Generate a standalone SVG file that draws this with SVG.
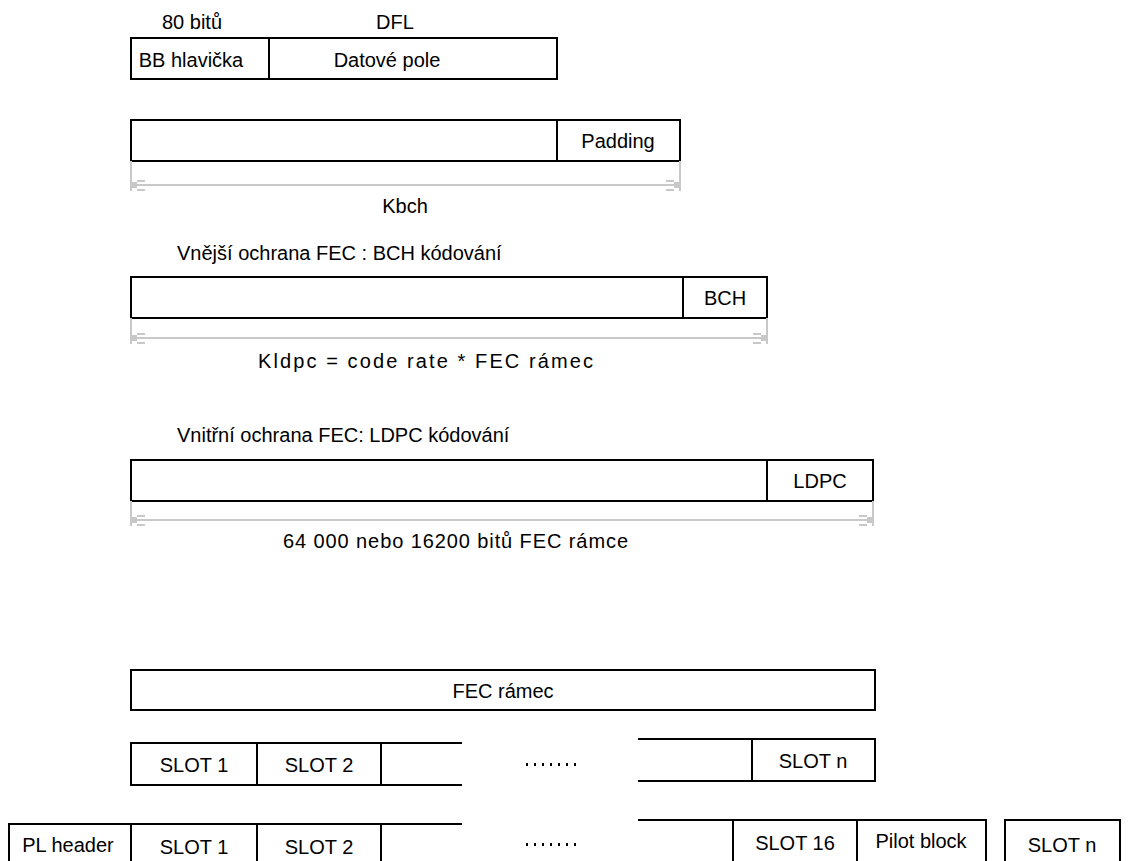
<svg xmlns="http://www.w3.org/2000/svg" width="1128" height="861" viewBox="0 0 1128 861">
<style>
.b{fill:none;stroke:#000;stroke-width:2}
.l{stroke:#000;stroke-width:2}
.g{stroke:#c8c8c8;stroke-width:2;fill:none}
.ga{fill:#c8c8c8}
text{font-family:"Liberation Sans",Arial,sans-serif;font-size:20px;fill:#000}
.c{text-anchor:middle}
</style>
<rect width="1128" height="861" fill="#fff"/>
<g id="bbframe">
<text class="c" x="192" y="29">80 bitů</text>
<text class="c" x="395" y="29">DFL</text>
<rect class="b" x="131" y="38" width="426" height="41"/>
<line class="l" x1="269" y1="38" x2="269" y2="79"/>
<text class="c" x="191" y="67">BB hlavička</text>
<text class="c" x="387" y="67">Datové pole</text>
</g>
<g id="padding">
<rect class="b" x="131" y="120" width="549" height="41"/>
<line class="l" x1="557" y1="120" x2="557" y2="161"/>
<text class="c" x="618" y="148">Padding</text>
</g>
<g id="bch">
<text x="177" y="260">Vnější ochrana FEC : BCH kódování</text>
<rect class="b" x="131" y="277" width="636" height="41"/>
<line class="l" x1="683" y1="277" x2="683" y2="318"/>
<text class="c" x="725" y="305">BCH</text>
</g>
<g id="ldpc">
<text x="177" y="442">Vnitřní ochrana FEC: LDPC kódování</text>
<rect class="b" x="131" y="460" width="742" height="41"/>
<line class="l" x1="767" y1="460" x2="767" y2="501"/>
<text class="c" x="820" y="488">LDPC</text>
</g>
<g id="dimensions">
<g>
<path class="g" d="M131 161V191M680 161V191M131 185H680"/>
<rect class="ga" x="131" y="182" width="6" height="6"/><path class="g" d="M137 181H145M137 190H145M674 181H666M674 190H666"/>
<rect class="ga" x="674" y="182" width="6" height="6"/>
<text class="c" x="405" y="213">Kbch</text>
</g>
<g>
<path class="g" d="M131 318V344M767 318V344M131 338H767"/>
<rect class="ga" x="131" y="335" width="6" height="6"/><path class="g" d="M137 334H145M137 343H145M761 334H753M761 343H753"/>
<rect class="ga" x="761" y="335" width="6" height="6"/>
<text x="258" y="368" textLength="335">Kldpc = code rate * FEC rámec</text>
</g>
<g>
<path class="g" d="M131 501V526M873 501V526M131 520H873"/>
<rect class="ga" x="131" y="517" width="6" height="6"/><path class="g" d="M137 516H145M137 525H145M867 516H859M867 525H859"/>
<rect class="ga" x="867" y="517" width="6" height="6"/>
<text x="283" y="548" textLength="345">64 000 nebo 16200 bitů FEC rámce</text>
</g>
</g>
<g id="fecframe">
<rect class="b" x="131" y="670" width="744" height="40"/>
<text class="c" x="503" y="698">FEC rámec</text>
</g>
<g id="slots">
<path class="l" fill="none" d="M462 743H131V785H462M257 743V785M381 743V785"/>
<text class="c" x="194" y="772">SLOT 1</text>
<text class="c" x="319" y="772">SLOT 2</text>
<path class="l" fill="none" d="M638 739H875V781H638M752 739V781"/>
<text class="c" x="813" y="768">SLOT n</text>
<g fill="#000"><rect x="526" y="763" width="2" height="3"/><rect x="534" y="763" width="2" height="3"/><rect x="542" y="763" width="2" height="3"/><rect x="550" y="763" width="2" height="3"/><rect x="558" y="763" width="2" height="3"/><rect x="566" y="763" width="2" height="3"/><rect x="574" y="763" width="2" height="3"/></g>
</g>
<g id="plframe">
<path class="l" fill="none" d="M462 824H9V870M131 824V870M257 824V870M381 824V870"/>
<text class="c" x="68" y="852">PL header</text>
<text class="c" x="194" y="854">SLOT 1</text>
<text class="c" x="319" y="854">SLOT 2</text>
<path class="l" fill="none" d="M638 820H986V870M733 820V870M857 820V870"/>
<text class="c" x="795" y="850">SLOT 16</text>
<text class="c" x="921" y="848">Pilot block</text>
<rect class="b" x="1005" y="820" width="115" height="60"/>
<text class="c" x="1062" y="852">SLOT n</text>
<g fill="#000"><rect x="526" y="843" width="2" height="3"/><rect x="534" y="843" width="2" height="3"/><rect x="542" y="843" width="2" height="3"/><rect x="550" y="843" width="2" height="3"/><rect x="558" y="843" width="2" height="3"/><rect x="566" y="843" width="2" height="3"/><rect x="574" y="843" width="2" height="3"/></g>
</g>
</svg>
